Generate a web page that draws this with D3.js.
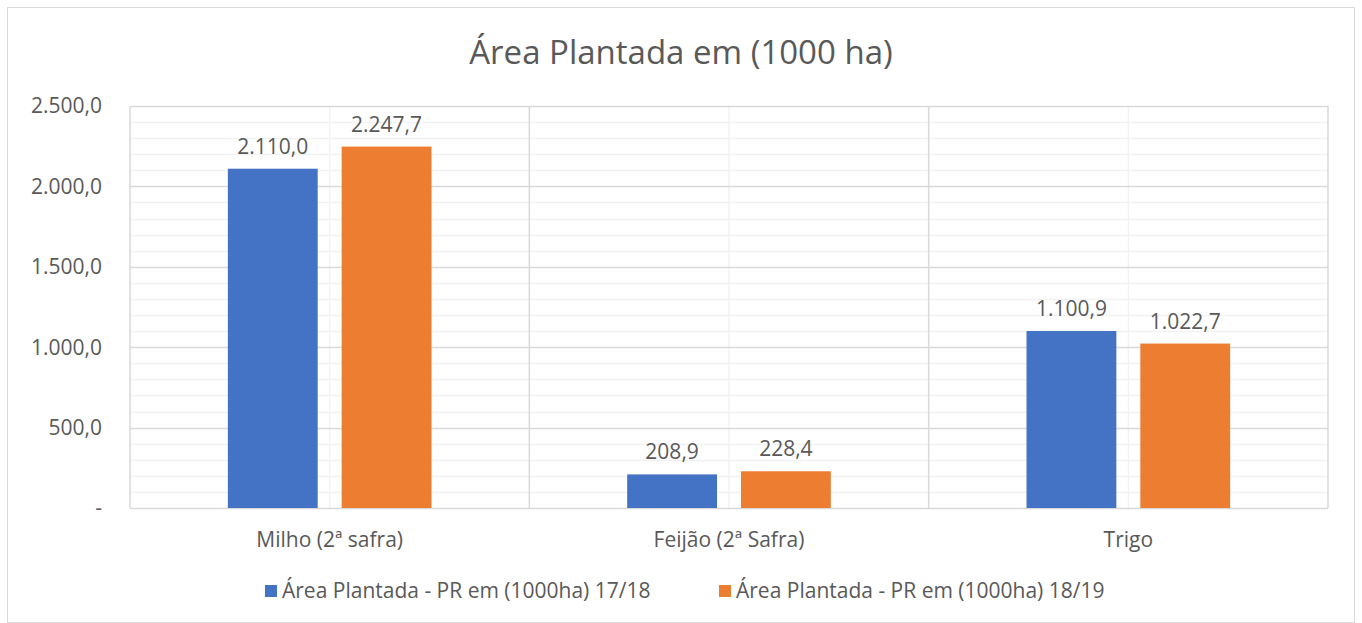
<!DOCTYPE html>
<html>
<head>
<meta charset="utf-8">
<script src="https://cdn.jsdelivr.net/npm/d3@7"></script>
<style>
  body { margin: 0; background: #fff; }
  text { font-family: "Open Sans", "Noto Sans", sans-serif; fill: #595959; }
</style>
</head>
<body>
<div id="chart"></div>
<script>
var categories = ["Milho (2ª safra)", "Feijão (2ª Safra)", "Trigo"];
var seriesNames = ["Área Plantada - PR em (1000ha) 17/18", "Área Plantada - PR em (1000ha) 18/19"];
var values1718 = [2110.0, 208.9, 1100.9];
var values1819 = [2247.7, 228.4, 1022.7];
var yTicks = [0, 500, 1000, 1500, 2000, 2500];
var colors = ["#4472C4", "#ED7D31"];

var width = 1362, height = 623;
var margin = {left: 130, right: 34, top: 106, bottom: 115};

var svg = d3.select("#chart").append("svg")
  .attr("width", width)
  .attr("height", height);

svg.append("rect")
  .attr("x", 7.5).attr("y", 7.5)
  .attr("width", width - 15).attr("height", height - 8)
  .attr("fill", "#fff")
  .attr("stroke", "#d9d9d9");

var x = d3.scaleBand()
  .domain(categories)
  .range([margin.left, width - margin.right]);

var y = d3.scaleLinear()
  .domain([0, 2500])
  .range([height - margin.bottom, margin.top]);

var fmt = function(v) {
  if (v === 0) return "-";
  return d3.formatLocale({decimal: ",", thousands: ".", grouping: [3]}).format(",.1f")(v);
};

// minor horizontal gridlines
svg.append("g").selectAll("line")
  .data(d3.range(0, 2501, 100).filter(function(d) { return d % 500 !== 0; }))
  .enter().append("line")
  .attr("x1", margin.left).attr("x2", width - margin.right)
  .attr("y1", function(d) { return Math.round(y(d)) + 0.5; })
  .attr("y2", function(d) { return Math.round(y(d)) + 0.5; })
  .attr("stroke", "#f2f2f2").attr("stroke-width", 1.5);

// minor vertical gridlines at category centres
svg.append("g").selectAll("line")
  .data(categories)
  .enter().append("line")
  .attr("x1", function(d) { return x(d) + x.bandwidth() / 2; })
  .attr("x2", function(d) { return x(d) + x.bandwidth() / 2; })
  .attr("y1", margin.top).attr("y2", height - margin.bottom)
  .attr("stroke", "#f2f2f2").attr("stroke-width", 1.5);

// major horizontal gridlines
svg.append("g").selectAll("line")
  .data(yTicks)
  .enter().append("line")
  .attr("x1", margin.left).attr("x2", width - margin.right)
  .attr("y1", function(d) { return Math.round(y(d)) + 0.5; })
  .attr("y2", function(d) { return Math.round(y(d)) + 0.5; })
  .attr("stroke", "#d9d9d9").attr("stroke-width", 1.5);

// major vertical gridlines at category boundaries
var bounds = categories.map(function(d) { return x(d); }).concat([width - margin.right]);
svg.append("g").selectAll("line")
  .data(bounds)
  .enter().append("line")
  .attr("x1", function(d) { return d; }).attr("x2", function(d) { return d; })
  .attr("y1", margin.top).attr("y2", height - margin.bottom)
  .attr("stroke", "#d9d9d9").attr("stroke-width", 1.5);

// bars
var x1 = d3.scaleBand()
  .domain([0, 1])
  .range([0, x.bandwidth()])
  .paddingInner(24 / 114)
  .paddingOuter(98 / 114);

var series = [values1718, values1819];
series.forEach(function(vals, s) {
  svg.append("g").selectAll("rect")
    .data(vals)
    .enter().append("rect")
    .attr("x", function(d, i) { return x(categories[i]) + x1(s); })
    .attr("width", x1.bandwidth())
    .attr("y", function(d) { return y(d); })
    .attr("height", function(d) { return y(0) - y(d); })
    .attr("fill", colors[s]);

  svg.append("g").selectAll("text")
    .data(vals)
    .enter().append("text")
    .attr("x", function(d, i) { return x(categories[i]) + x1(s) + x1.bandwidth() / 2; })
    .attr("y", function(d) { return y(d) - 15; })
    .attr("text-anchor", "middle")
    .style("font-size", "21px")
    .text(fmt);
});

// y axis labels
svg.append("g").selectAll("text")
  .data(yTicks)
  .enter().append("text")
  .attr("x", 102)
  .attr("y", function(d) { return y(d); })
  .attr("dy", "0.35em")
  .attr("text-anchor", "end")
  .style("font-size", "21px")
  .text(fmt);

// x axis labels
svg.append("g").selectAll("text")
  .data(categories)
  .enter().append("text")
  .attr("x", function(d) { return x(d) + x.bandwidth() / 2; })
  .attr("y", 547)
  .attr("text-anchor", "middle")
  .style("font-size", "21px")
  .text(function(d) { return d; });

// title
svg.append("text")
  .attr("x", width / 2)
  .attr("y", 64)
  .attr("text-anchor", "middle")
  .style("font-size", "33px")
  .text("Área Plantada em (1000 ha)");

// legend
var legendX = [265, 719];
var legend = svg.append("g").selectAll("g")
  .data(seriesNames)
  .enter().append("g")
  .attr("transform", function(d, i) { return "translate(" + legendX[i] + ",585)"; });
legend.append("rect")
  .attr("width", 12).attr("height", 12)
  .attr("fill", function(d, i) { return colors[i]; });
legend.append("text")
  .attr("x", 17).attr("y", 6)
  .attr("dy", "0.35em")
  .style("font-size", "21px")
  .text(function(d) { return d; });
</script>
</body>
</html>
